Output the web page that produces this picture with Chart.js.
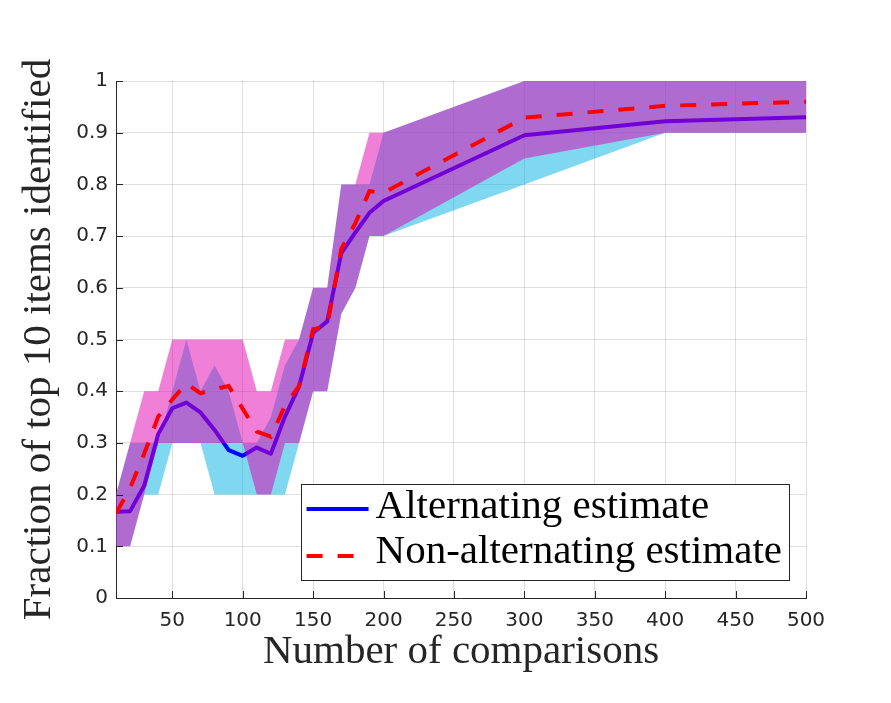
<!DOCTYPE html>
<html>
<head>
<meta charset="utf-8">
<script src="https://cdn.jsdelivr.net/npm/chart.js@4.4.1/dist/chart.umd.min.js"></script>
<style>
  html, body { margin: 0; padding: 0; background: #ffffff; }
  #wrap { width: 891px; height: 703px; position: relative; }
</style>
</head>
<body>
<div id="wrap"><canvas id="c"></canvas></div>
<script>
// ---------- data ----------
const comparisons = [10, 20, 30, 40, 50, 60, 70, 80, 90, 100, 110, 120, 130, 140, 150, 160, 170, 180, 190, 200, 300, 400, 500];

const altEstimate = [0.167, 0.168, 0.217, 0.317, 0.367, 0.378, 0.359, 0.325, 0.286, 0.275, 0.291, 0.279, 0.351, 0.409, 0.513, 0.535, 0.667, 0.707, 0.745, 0.768, 0.895, 0.922, 0.930];
const altLower    = [0.1, 0.1, 0.2, 0.2, 0.3, 0.3, 0.3, 0.2, 0.2, 0.2, 0.2, 0.2, 0.2, 0.3, 0.4, 0.4, 0.55, 0.6, 0.7, 0.7, 0.8, 0.9, 0.9];
const altUpper    = [0.2, 0.3, 0.3, 0.3, 0.4, 0.5, 0.4, 0.45, 0.4, 0.3, 0.3, 0.35, 0.45, 0.5, 0.6, 0.6, 0.8, 0.8, 0.8, 0.9, 1.0, 1.0, 1.0];

const nonAltEstimate = [0.164, 0.212, 0.279, 0.351, 0.384, 0.415, 0.396, 0.404, 0.410, 0.366, 0.322, 0.312, 0.372, 0.410, 0.520, 0.526, 0.675, 0.725, 0.787, 0.784, 0.929, 0.952, 0.960];
const nonAltLower    = [0.1, 0.1, 0.2, 0.3, 0.3, 0.3, 0.3, 0.3, 0.3, 0.3, 0.2, 0.2, 0.3, 0.3, 0.4, 0.4, 0.55, 0.6, 0.7, 0.7, 0.85, 0.9, 0.9];
const nonAltUpper    = [0.2, 0.3, 0.4, 0.4, 0.5, 0.5, 0.5, 0.5, 0.5, 0.5, 0.4, 0.4, 0.5, 0.5, 0.6, 0.6, 0.8, 0.8, 0.9, 0.9, 1.0, 1.0, 1.0];

const xTickValues = [50, 100, 150, 200, 250, 300, 350, 400, 450, 500];
const yTickValues = [0, 0.1, 0.2, 0.3, 0.4, 0.5, 0.6, 0.7, 0.8, 0.9, 1];
const yTickLabels = ['0', '0.1', '0.2', '0.3', '0.4', '0.5', '0.6', '0.7', '0.8', '0.9', '1'];

const seriesLabels = ['Alternating estimate', 'Non-alternating estimate'];
const xTitle = 'Number of comparisons';
const yTitle = 'Fraction of top 10 items identified';

// ---------- helpers ----------
const pts = ys => comparisons.map((x, i) => ({ x: x, y: ys[i] }));
const AXIS = '#262626';
const GRID = 'rgba(38,38,38,0.15)';
const SERIF = '"Liberation Serif", "Times New Roman", serif';
const SANS = '"DejaVu Sans", sans-serif';

const band = (data, fill, bg, order) => ({
  data: data, borderWidth: 0, pointRadius: 0, pointHoverRadius: 0,
  fill: fill, backgroundColor: bg, borderColor: 'rgba(0,0,0,0)', tension: 0, order: order
});

// inward tick marks (MATLAB style)
const innerTicks = {
  id: 'innerTicks',
  afterDatasetsDraw(chart) {
    const ctx = chart.ctx, xs = chart.scales.x, ys = chart.scales.y, a = chart.chartArea;
    ctx.save();
    ctx.strokeStyle = AXIS; ctx.lineWidth = 1;
    ctx.beginPath();
    xs.ticks.forEach(t => {
      const px = Math.round(xs.getPixelForValue(t.value)) + 0.5;
      ctx.moveTo(px, a.bottom); ctx.lineTo(px, a.bottom - 7);
    });
    ys.ticks.forEach(t => {
      const py = Math.round(ys.getPixelForValue(t.value)) + 0.5;
      ctx.moveTo(a.left, py); ctx.lineTo(a.left + 7, py);
    });
    ctx.stroke();
    ctx.restore();
  }
};

// boxed legend inside the axes, lower right
const boxLegend = {
  id: 'boxLegend',
  afterDraw(chart) {
    const ctx = chart.ctx, a = chart.chartArea;
    const items = chart.data.datasets.filter(d => d.label);
    ctx.save();
    ctx.font = '41px ' + SERIF;
    const tw = Math.max(...items.map(d => ctx.measureText(d.label).width));
    const lineLen = 62, padL = 6, gap = 7, padR = 7, rowH = 47;
    const w = padL + lineLen + gap + tw + padR;
    const h = 96;
    const right = a.right - 17, bottom = a.bottom - 18;
    const left = right - w, top = bottom - h;
    ctx.fillStyle = '#ffffff';
    ctx.fillRect(left, top, w, h);
    ctx.strokeStyle = '#262626'; ctx.lineWidth = 1;
    ctx.strokeRect(Math.round(left) + 0.5, Math.round(top) + 0.5, Math.round(w), Math.round(h));
    items.forEach((d, i) => {
      const ly = top + 25 + i * rowH;
      ctx.save();
      ctx.strokeStyle = d.borderColor; ctx.lineWidth = d.borderWidth;
      ctx.setLineDash(d.borderDash || []);
      ctx.lineCap = 'butt';
      ctx.beginPath(); ctx.moveTo(left + padL, ly); ctx.lineTo(left + padL + lineLen, ly); ctx.stroke();
      ctx.restore();
      ctx.fillStyle = '#000000';
      ctx.textBaseline = 'alphabetic';
      ctx.textAlign = 'left';
      ctx.fillText(d.label, left + padL + lineLen + gap, top + 34 + i * 45);
    });
    ctx.restore();
  }
};

new Chart(document.getElementById('c'), {
  type: 'line',
  data: {
    datasets: [
      band(pts(altLower), false, 'rgba(0,0,0,0)', 7),
      band(pts(altUpper), '-1', 'rgba(0,178,225,0.5)', 6),
      { label: seriesLabels[0], data: pts(altEstimate), borderColor: '#0000ff', borderWidth: 4,
        pointRadius: 0, fill: false, tension: 0, borderJoinStyle: 'round', order: 5 },
      band(pts(nonAltLower), false, 'rgba(0,0,0,0)', 4),
      band(pts(nonAltUpper), '-1', 'rgba(225,0,178,0.5)', 3),
      { label: seriesLabels[1], data: pts(nonAltEstimate), borderColor: '#ff0000', borderWidth: 4,
        borderDash: [16, 15], borderCapStyle: 'butt', pointRadius: 0, fill: false, tension: 0, order: 2 }
    ]
  },
  options: {
    responsive: true,
    maintainAspectRatio: false,
    animation: false,
    devicePixelRatio: 1,
    layout: { padding: { top: 81, right: 85, bottom: 0, left: 0 } },
    plugins: { legend: { display: false }, tooltip: { enabled: false }, title: { display: false } },
    scales: {
      x: {
        type: 'linear', min: 10, max: 500,
        afterBuildTicks: s => { s.ticks = xTickValues.map(v => ({ value: v })); },
        afterFit: s => { s.height = 105; },
        grid: { color: GRID, lineWidth: 1, drawTicks: false },
        border: { display: true, color: AXIS, width: 1 },
        ticks: { font: { family: SANS, size: 20 }, color: AXIS, padding: 11, maxRotation: 0, autoSkip: false,
                 callback: v => String(v) },
        title: { display: true, text: xTitle, color: AXIS, font: { family: SERIF, size: 41 },
                 padding: { top: 0, bottom: 26 } }
      },
      y: {
        type: 'linear', min: 0, max: 1,
        afterBuildTicks: s => { s.ticks = yTickValues.map(v => ({ value: v })); },
        afterFit: s => { s.width = 116; },
        grid: { color: GRID, lineWidth: 1, drawTicks: false },
        border: { display: true, color: AXIS, width: 1 },
        ticks: { font: { family: SANS, size: 20 }, color: AXIS, padding: 8, autoSkip: false,
                 callback: (v) => yTickLabels[yTickValues.indexOf(v)] ?? String(v) },
        title: { display: true, text: yTitle, color: AXIS, font: { family: SERIF, size: 41 },
                 padding: { top: 15, bottom: 0 } }
      }
    }
  },
  plugins: [innerTicks, boxLegend]
});
</script>
</body>
</html>
